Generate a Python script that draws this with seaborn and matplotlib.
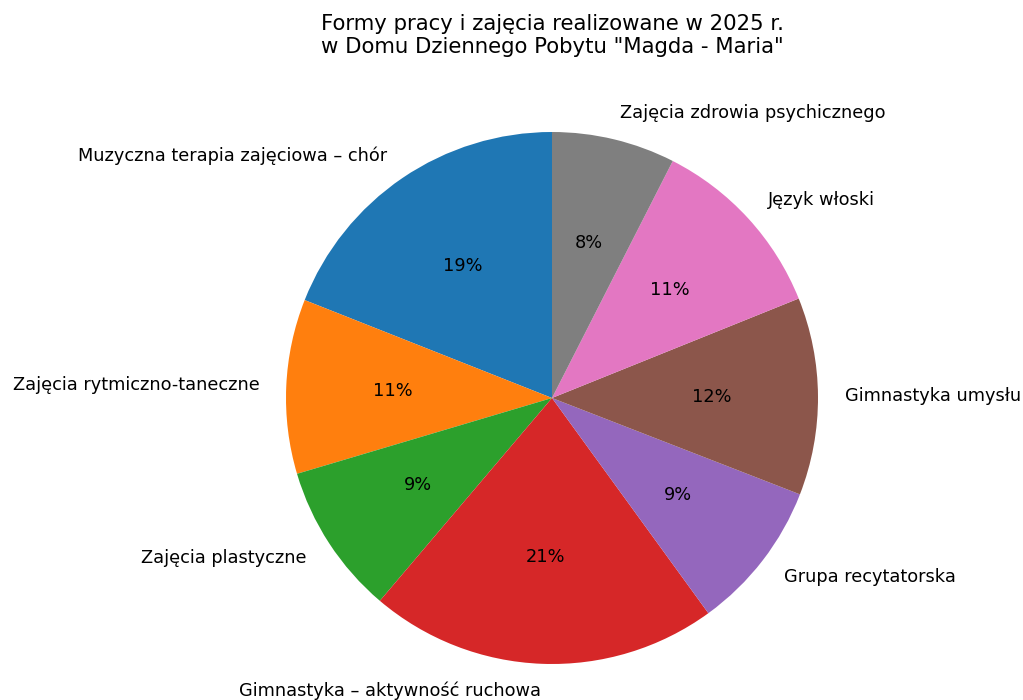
import matplotlib
matplotlib.use("Agg")
import matplotlib.pyplot as plt
import seaborn as sns

labels = [
    "Muzyczna terapia zajęciowa – chór",
    "Zajęcia rytmiczno-taneczne",
    "Zajęcia plastyczne",
    "Gimnastyka – aktywność ruchowa",
    "Grupa recytatorska",
    "Gimnastyka umysłu",
    "Język włoski",
    "Zajęcia zdrowia psychicznego",
]
shares = [19.0, 10.6, 9.2, 21.2, 9.1, 12.0, 11.4, 7.5]
title = 'Formy pracy i zajęcia realizowane w 2025 r.\nw Domu Dziennego Pobytu "Magda - Maria"'

colors = sns.color_palette("tab10", len(labels))
plt.rcParams['font.family'] = ['DejaVu Sans']

fig = plt.figure(figsize=(10.23, 7), dpi=100)
ax = fig.add_axes([219.5 / 1023, -30.5 / 700, 665 / 1023, 665 / 700])
ax.pie(shares, labels=labels, colors=colors, autopct="%1.0f%%", startangle=90,
       textprops={"fontsize": 12.8})
ax.set_aspect("equal")
ax.set_title(title, fontsize=15.3, pad=9)
fig.savefig("out.png", dpi=100)
